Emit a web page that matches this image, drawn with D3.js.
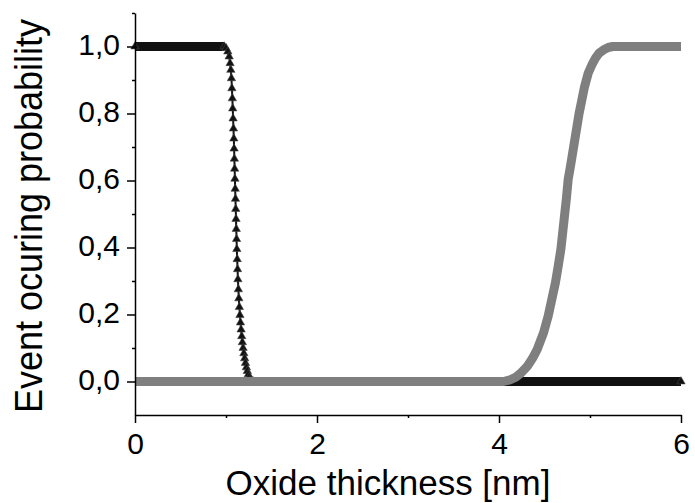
<!DOCTYPE html>
<html>
<head>
<meta charset="utf-8">
<script src="https://cdn.jsdelivr.net/npm/d3@7"></script>
<style>
    body { margin: 0; background: #fff; }
    svg { display: block; }
    text { font-family: "Liberation Sans", Arial, sans-serif; fill: #000; }
</style>
</head>
<body>
<svg id="chart" width="695" height="503"></svg>
<script>
"use strict"

//axis ticks
const x_major = [0, 2, 4, 6];
const x_minor = [1, 3, 5];
const y_major = [0, 0.2, 0.4, 0.6, 0.8, 1.0];
const y_minor = [0.1, 0.3, 0.5, 0.7, 0.9, 1.1];

//black triangles series
const black_x = [0, 0.98, 1.00, 1.02, 1.035, 1.045, 1.053, 1.06, 1.065, 1.07, 1.074, 1.078, 1.082, 1.086,
    1.089, 1.092, 1.095, 1.098, 1.101, 1.104, 1.107, 1.110, 1.113, 1.116, 1.119, 1.123, 1.127, 1.131,
    1.136, 1.141, 1.147, 1.153, 1.159, 1.166, 1.173, 1.180, 1.188, 1.196, 1.205, 1.214, 1.224, 1.234,
    1.245, 1.256, 1.268, 1.28, 1.30, 6.0];
const black_y = [1.0, 1.0, 0.995, 0.985, 0.97, 0.95, 0.93, 0.905, 0.875, 0.845, 0.815, 0.785, 0.755, 0.725,
    0.695, 0.665, 0.635, 0.605, 0.575, 0.545, 0.515, 0.485, 0.455, 0.425, 0.395, 0.365, 0.335, 0.305,
    0.275, 0.248, 0.222, 0.198, 0.176, 0.155, 0.135, 0.117, 0.100, 0.084, 0.069, 0.055, 0.042, 0.031,
    0.021, 0.013, 0.007, 0.003, 0.0, 0.0];

//grey circles series
const grey_x = [0, 4.05, 4.12, 4.18, 4.24, 4.31, 4.37, 4.42, 4.49, 4.54, 4.58, 4.62, 4.65, 4.68, 4.70,
    4.72, 4.74, 4.76, 4.79, 4.82, 4.85, 4.88, 4.91, 4.94, 4.98, 5.02, 5.06, 5.10, 5.15, 5.20, 5.25, 6.0];
const grey_y = [0, 0, 0.005, 0.012, 0.025, 0.045, 0.07, 0.096, 0.146, 0.195, 0.245, 0.295, 0.343, 0.395,
    0.445, 0.495, 0.545, 0.603, 0.65, 0.70, 0.75, 0.80, 0.84, 0.88, 0.92, 0.945, 0.965, 0.98, 0.99,
    0.997, 1.0, 1.0];

const svg = d3.select("#chart");

const x = d3.scaleLinear().domain([0, 6]).range([135, 681]);
const y = d3.scaleLinear().domain([-0.1, 1.1]).range([415, 13]);

//comma as decimal mark
const comma_fmt = d3.formatLocale({decimal: ",", thousands: ".", grouping: [3], currency: ["", ""]}).format(".1f");

const black_pts = black_x.map((v, i) => [v, black_y[i]]);
const grey_pts = grey_x.map((v, i) => [v, grey_y[i]]);

const line = d3.line().x(d => x(d[0])).y(d => y(d[1]));

//--------BLACK SERIES--------//
const black_layer = svg.append("g");

//flat parts look like a thick band of overlapping markers
for (let i = 0; i < black_pts.length - 1; ++i) {
    if (black_pts[i][1] === black_pts[i + 1][1]) {
        black_layer.append("path")
            .attr("d", line([black_pts[i], black_pts[i + 1]]))
            .attr("fill", "none")
            .attr("stroke", "#111")
            .attr("stroke-width", 9);
    }
}

//thin spine through the drop
black_layer.append("path")
    .attr("d", line(black_pts))
    .attr("fill", "none")
    .attr("stroke", "#111")
    .attr("stroke-width", 2);

//triangle markers
black_layer.selectAll("path.tri")
    .data(black_pts)
    .join("path")
    .attr("class", "tri")
    .attr("d", d3.symbol().type(d3.symbolTriangle).size(30))
    .attr("transform", d => `translate(${x(d[0])},${y(d[1])})`)
    .attr("fill", "#111")
    .attr("stroke", "#444")
    .attr("stroke-width", 0.6);

//--------GREY SERIES--------//
svg.append("path")
    .attr("d", line(grey_pts))
    .attr("fill", "none")
    .attr("stroke", "#7f7f7f")
    .attr("stroke-width", 9)
    .attr("stroke-linejoin", "round");

//--------AXES--------//
const y_axis = svg.append("g")
    .attr("transform", `translate(${x(0)},0)`)
    .call(d3.axisLeft(y).tickValues(y_major).tickSize(8).tickPadding(7).tickSizeOuter(0).tickFormat(comma_fmt));

y_axis.selectAll("text").attr("font-size", 30).attr("dy", "0.27em");

svg.append("g")
    .attr("transform", `translate(${x(0)},0)`)
    .call(d3.axisLeft(y).tickValues(y_minor).tickSize(3).tickSizeOuter(0).tickFormat(""))
    .select(".domain").remove();

const x_axis = svg.append("g")
    .attr("transform", `translate(0,${y(-0.1)})`)
    .call(d3.axisBottom(x).tickValues(x_major).tickSize(8).tickPadding(10).tickSizeOuter(0).tickFormat(d3.format("d")));

x_axis.selectAll("text").attr("font-size", 30);

svg.append("g")
    .attr("transform", `translate(0,${y(-0.1)})`)
    .call(d3.axisBottom(x).tickValues(x_minor).tickSize(3).tickSizeOuter(0).tickFormat(""))
    .select(".domain").remove();

svg.selectAll(".domain").attr("stroke", "#000").attr("stroke-width", 1.5);
svg.selectAll(".tick line").attr("stroke", "#000").attr("stroke-width", 1.5);

//--------TITLES--------//
svg.append("text")
    .attr("x", 388)
    .attr("y", 495)
    .attr("text-anchor", "middle")
    .attr("font-size", 35)
    .text("Oxide thickness [nm]");

//y title is tall and narrow in the original, so stretch the glyph height a bit
svg.append("text")
    .attr("transform", "translate(42,216) rotate(-90) scale(1,1.1)")
    .attr("text-anchor", "middle")
    .attr("font-size", 36)
    .text("Event ocuring probability");
</script>
</body>
</html>
